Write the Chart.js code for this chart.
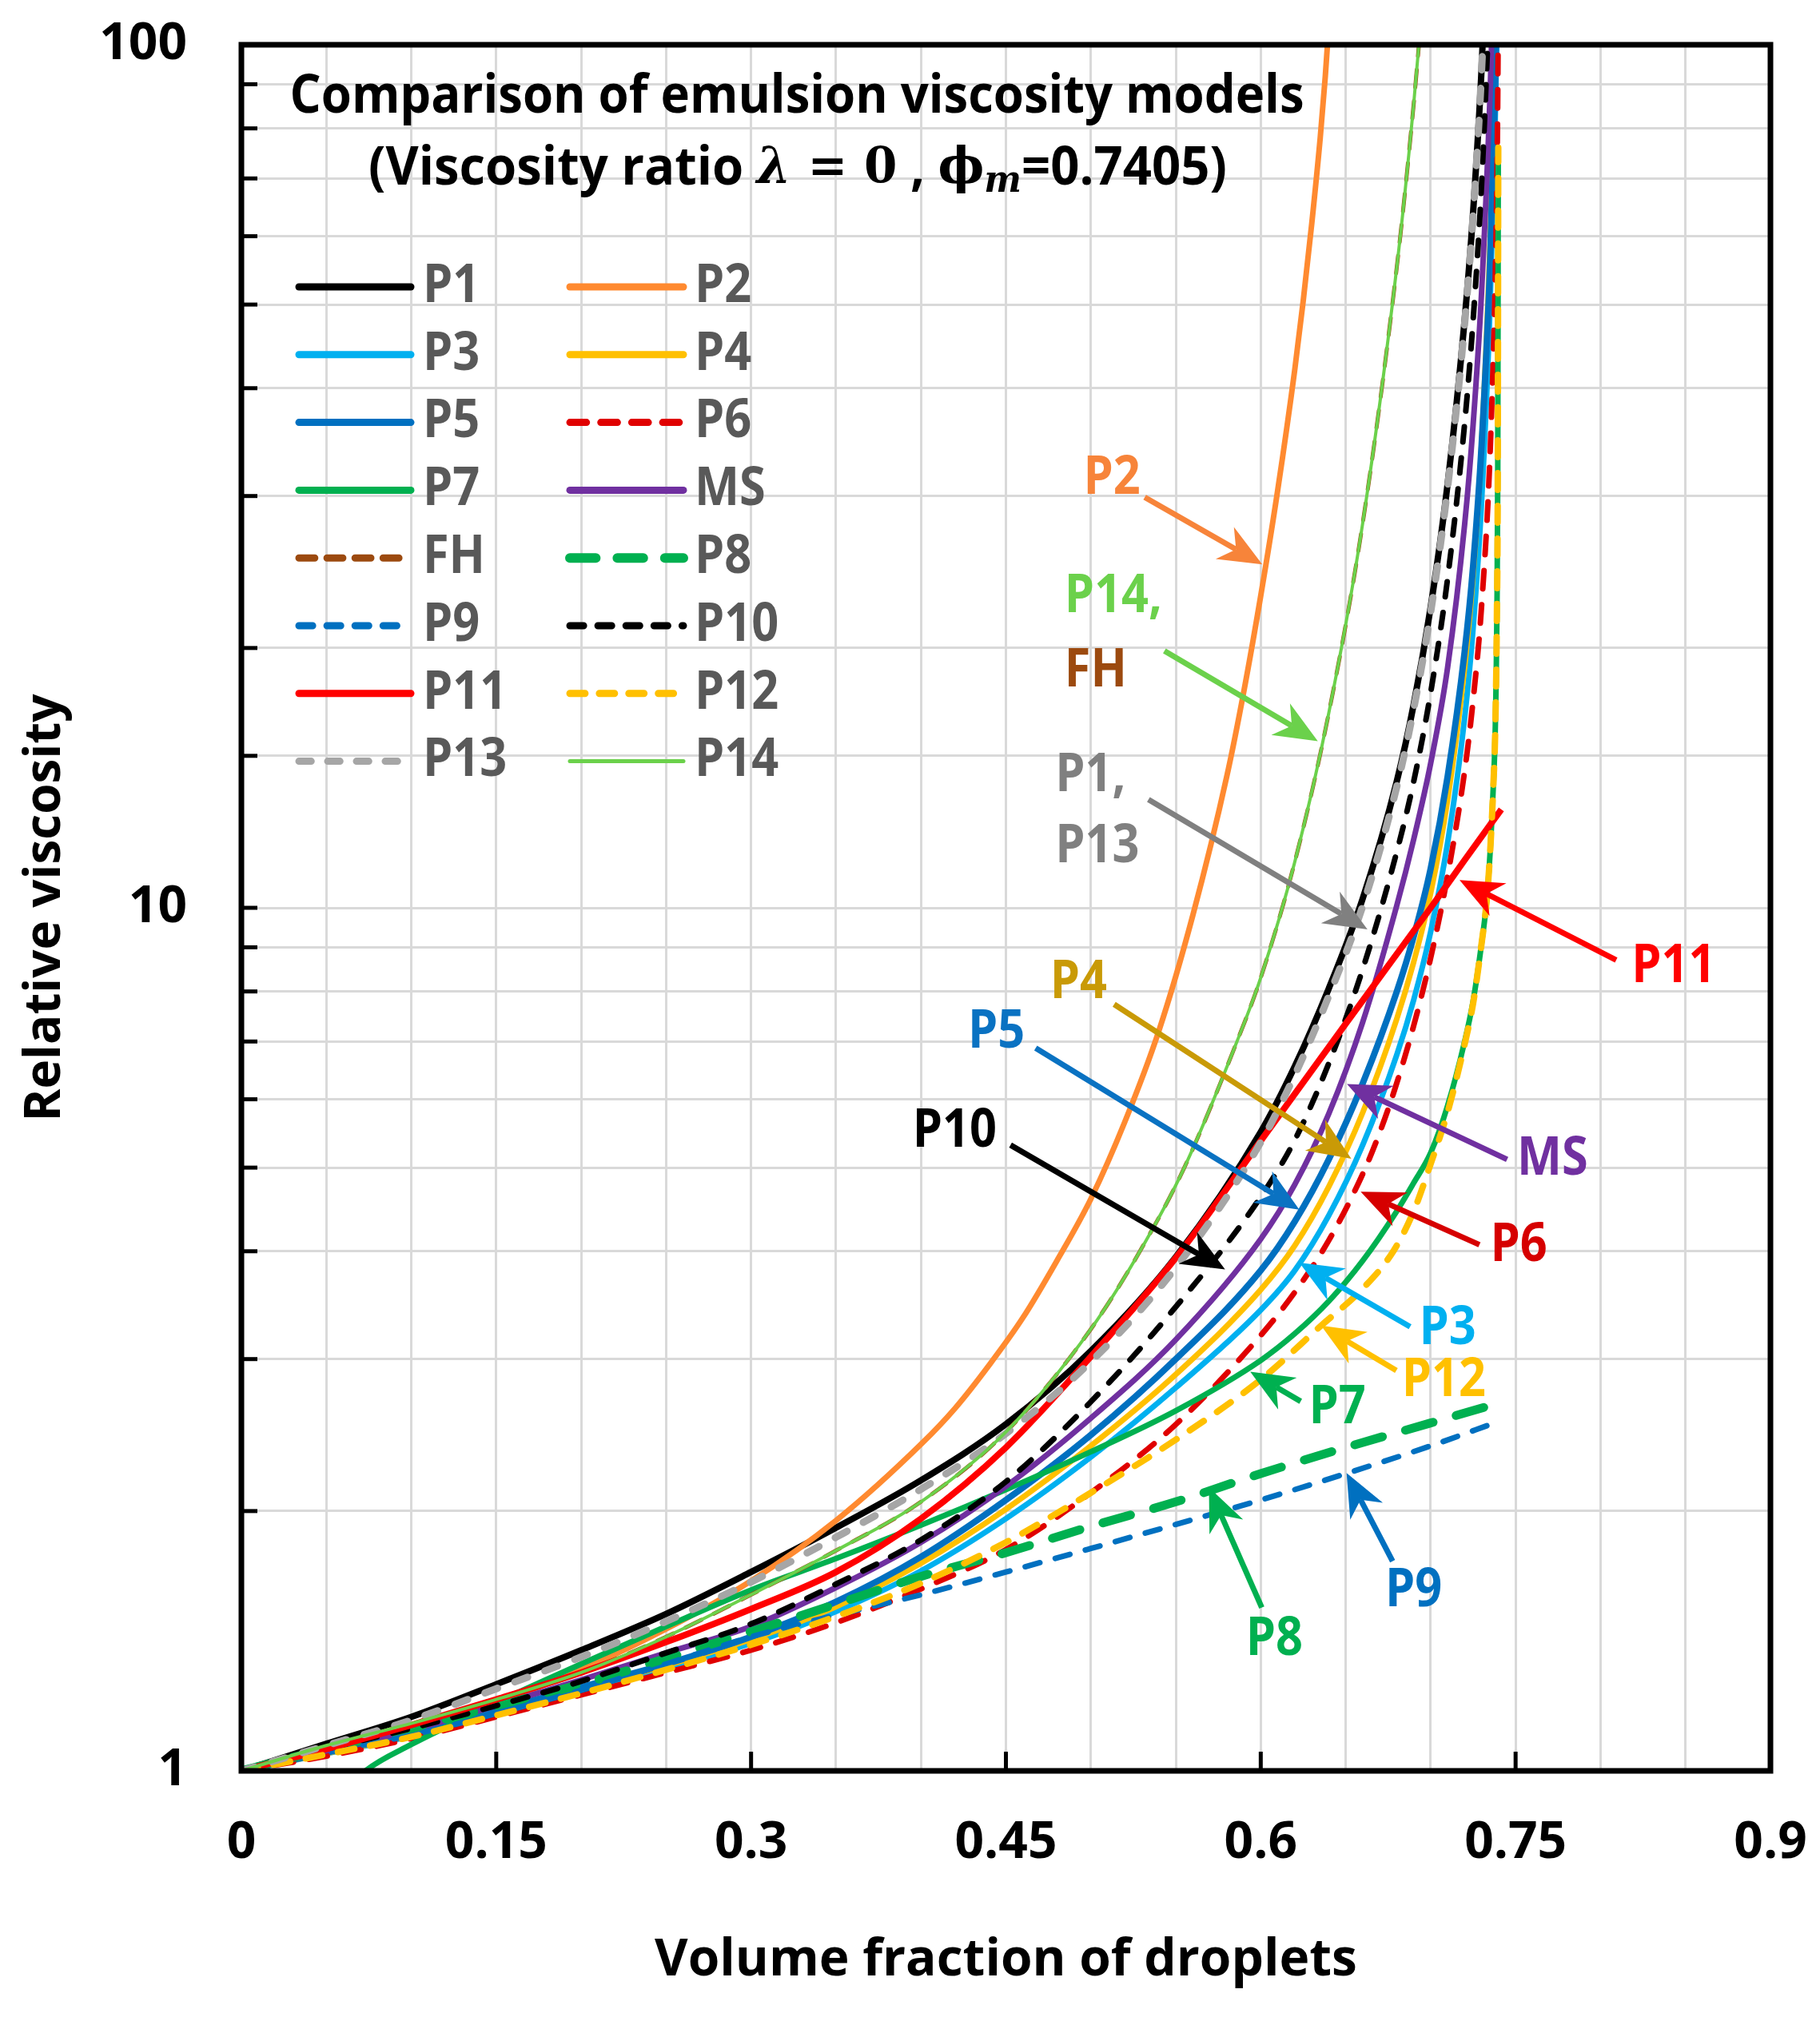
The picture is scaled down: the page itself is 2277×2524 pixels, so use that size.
<!DOCTYPE html>
<html>
<head>
<meta charset="utf-8">
<script src="https://cdn.jsdelivr.net/npm/chart.js@4.4.1/dist/chart.umd.min.js"></script>
<style>
  html, body { margin: 0; padding: 0; background: #fff; }
  #wrap { width: 2277px; height: 2524px; }
</style>
</head>
<body>
<div id="wrap"><canvas id="myChart" width="2277" height="2524"></canvas></div>
<script>
// values: [volume fraction, relative viscosity]
const P1 = [[0,1],[0.05,1.075],[0.1,1.155],[0.15,1.26],[0.2,1.38],[0.25,1.52],[0.3,1.70],[0.35,1.913],[0.4,2.171],[0.45,2.522],[0.5,3.066],[0.55,3.94],[0.6,5.50],[0.62,6.55],[0.64,8.06],[0.66,10.25],[0.68,14.0],[0.69,17.2],[0.7,22.3],[0.71,31],[0.72,48],[0.725,64],[0.73,94],[0.735,165]];
const P2 = [[0,1],[0.05,1.055],[0.1,1.12],[0.15,1.2],[0.2,1.31],[0.25,1.46],[0.3,1.66],[0.35,1.95],[0.4,2.39],[0.42,2.63],[0.44,2.95],[0.46,3.35],[0.48,3.9],[0.5,4.6],[0.52,5.65],[0.54,7.2],[0.56,9.8],[0.58,14.2],[0.59,17.8],[0.6,23],[0.61,30.5],[0.62,42],[0.625,50.5],[0.63,62],[0.635,78],[0.638,92],[0.642,120]];
const P3 = [[0,1],[0.05,1.047],[0.1,1.097],[0.15,1.165],[0.2,1.235],[0.25,1.315],[0.3,1.405],[0.35,1.53],[0.4,1.705],[0.45,1.96],[0.5,2.31],[0.55,2.78],[0.6,3.42],[0.62,3.80],[0.64,4.40],[0.66,5.31],[0.68,6.75],[0.69,7.82],[0.7,9.38],[0.71,11.9],[0.72,16.6],[0.725,21.1],[0.73,29.6],[0.735,50],[0.738,82],[0.7395,117]];
const P4 = [[0,1],[0.05,1.048],[0.1,1.1],[0.15,1.17],[0.2,1.245],[0.25,1.325],[0.3,1.42],[0.35,1.55],[0.4,1.74],[0.45,2.01],[0.5,2.38],[0.55,2.88],[0.6,3.61],[0.62,4.06],[0.64,4.75],[0.66,5.79],[0.68,7.43],[0.69,8.65],[0.7,10.4],[0.71,13.35],[0.72,19.0],[0.725,24.3],[0.73,34.5],[0.735,59.3],[0.738,98.8],[0.7395,144]];
const P5 = [[0,1],[0.05,1.05],[0.1,1.105],[0.15,1.175],[0.2,1.25],[0.25,1.33],[0.3,1.43],[0.35,1.57],[0.4,1.77],[0.45,2.06],[0.5,2.45],[0.55,3.0],[0.6,3.80],[0.62,4.33],[0.64,5.11],[0.66,6.26],[0.68,7.99],[0.69,9.26],[0.7,11.1],[0.71,14.2],[0.72,19.8],[0.725,24.9],[0.73,34.4],[0.735,56],[0.738,90],[0.739,113]];
const P6 = [[0,1],[0.05,1.04],[0.1,1.09],[0.15,1.155],[0.2,1.225],[0.25,1.3],[0.3,1.38],[0.35,1.485],[0.4,1.625],[0.45,1.805],[0.5,2.1],[0.55,2.52],[0.6,3.196],[0.62,3.585],[0.64,4.116],[0.66,4.915],[0.67,5.49],[0.68,6.26],[0.69,7.30],[0.7,8.75],[0.71,10.9],[0.72,14.4],[0.725,17.4],[0.73,22.4],[0.735,33.7],[0.738,53.6],[0.739,70],[0.7395,87.5],[0.74,126]];
const P7 = [[0.05,0.9],[0.073,1.0],[0.1,1.073],[0.125,1.135],[0.15,1.2],[0.2,1.33],[0.25,1.47],[0.3,1.62],[0.35,1.762],[0.4,1.926],[0.45,2.118],[0.5,2.343],[0.55,2.614],[0.6,2.99],[0.62,3.21],[0.64,3.50],[0.66,3.9],[0.68,4.45],[0.69,4.8],[0.7,5.2],[0.71,5.9],[0.72,7.0],[0.725,7.8],[0.73,9.1],[0.733,10.2],[0.735,11.6],[0.737,14],[0.738,16],[0.739,22],[0.7395,32],[0.7398,76]];
const MS = [[0,1],[0.05,1.055],[0.1,1.115],[0.15,1.19],[0.2,1.275],[0.25,1.37],[0.3,1.47],[0.35,1.631],[0.4,1.84],[0.45,2.137],[0.5,2.563],[0.55,3.16],[0.6,4.133],[0.62,4.778],[0.64,5.77],[0.66,7.37],[0.68,10.05],[0.69,12.0],[0.7,14.7],[0.71,19.0],[0.72,27.8],[0.725,36.3],[0.73,51.8],[0.735,88],[0.737,120]];
const FH = [[0,1],[0.05,1.07],[0.1,1.135],[0.15,1.21],[0.2,1.3],[0.25,1.43],[0.3,1.6],[0.35,1.8],[0.4,2.05],[0.45,2.47],[0.5,3.25],[0.532,4.1],[0.555,5.0],[0.586,7.0],[0.6,8.3],[0.62,11.3],[0.64,16.8],[0.66,27.9],[0.68,55.1],[0.69,85.3],[0.695,110.6]];
const P8 = [[0,1],[0.05,1.06],[0.1,1.12],[0.15,1.19],[0.2,1.26],[0.25,1.35],[0.3,1.45],[0.35,1.56],[0.4,1.68],[0.45,1.79],[0.5,1.92],[0.55,2.05],[0.6,2.21],[0.65,2.37],[0.7,2.53],[0.735,2.65]];
const P9 = [[0,1],[0.05,1.05],[0.1,1.1],[0.15,1.165],[0.2,1.24],[0.25,1.33],[0.3,1.43],[0.35,1.515],[0.4,1.6],[0.45,1.7],[0.5,1.81],[0.55,1.93],[0.6,2.06],[0.65,2.21],[0.7,2.38],[0.74,2.54]];
const P10 = [[0,1],[0.05,1.06],[0.1,1.12],[0.15,1.19],[0.2,1.27],[0.25,1.37],[0.3,1.48],[0.35,1.646],[0.4,1.852],[0.45,2.163],[0.5,2.677],[0.55,3.449],[0.6,4.625],[0.62,5.38],[0.64,6.6],[0.66,8.49],[0.68,11.6],[0.69,14.0],[0.7,17.75],[0.71,24.1],[0.72,36.4],[0.725,48],[0.73,69],[0.735,117]];
const P11 = [[0,1],[0.05,1.06],[0.1,1.13],[0.15,1.21],[0.2,1.3],[0.25,1.41],[0.3,1.54],[0.35,1.70],[0.4,1.96],[0.45,2.37],[0.5,3.02],[0.55,3.93],[0.6,5.37],[0.65,7.34],[0.7,10.0],[0.72,11.36],[0.7416,13.0]];
const P12 = [[0,1],[0.05,1.045],[0.1,1.095],[0.15,1.16],[0.2,1.23],[0.25,1.31],[0.3,1.4],[0.35,1.51],[0.4,1.65],[0.45,1.84],[0.5,2.1],[0.55,2.42],[0.6,2.84],[0.6355,3.28],[0.66,3.62],[0.678,4.0],[0.69,4.45],[0.7,5.05],[0.71,5.8],[0.72,6.95],[0.725,7.75],[0.73,9.1],[0.733,10.2],[0.735,11.6],[0.737,14],[0.738,16],[0.739,22],[0.7395,32],[0.7398,76]];
const P13 = [[0,1],[0.05,1.07],[0.1,1.145],[0.15,1.245],[0.2,1.355],[0.25,1.49],[0.3,1.655],[0.35,1.865],[0.4,2.12],[0.45,2.46],[0.5,2.98],[0.55,3.83],[0.6,5.35],[0.62,6.4],[0.64,7.9],[0.66,10.05],[0.68,13.8],[0.69,17.0],[0.7,22.0],[0.71,30.7],[0.72,47.5],[0.725,63.5],[0.73,93.5],[0.735,165]];
const P14 = [[0,1],[0.05,1.07],[0.1,1.135],[0.15,1.21],[0.2,1.3],[0.25,1.43],[0.3,1.6],[0.35,1.8],[0.4,2.05],[0.45,2.47],[0.5,3.25],[0.532,4.1],[0.555,5.0],[0.586,7.0],[0.6,8.3],[0.62,11.3],[0.64,16.8],[0.66,27.9],[0.68,55.1],[0.69,85.3],[0.695,110.6]];

const xTicks = [0, 0.15, 0.3, 0.45, 0.6, 0.75, 0.9];
const yTicks = [1, 10, 100];

// series in Excel order (later ones drawn on top), legend fills row by row
const series = [
  { label: 'P1',  pts: P1,  color: '#000000', width: 8 },
  { label: 'P2',  pts: P2,  color: '#ff8a30', width: 7 },
  { label: 'P3',  pts: P3,  color: '#00b0f0', width: 7 },
  { label: 'P4',  pts: P4,  color: '#ffc000', width: 7 },
  { label: 'P5',  pts: P5,  color: '#0070c0', width: 8 },
  { label: 'P6',  pts: P6,  color: '#e00000', width: 7, dash: [23, 20] },
  { label: 'P7',  pts: P7,  color: '#00b050', width: 7 },
  { label: 'MS',  pts: MS,  color: '#7030a0', width: 7 },
  { label: 'FH',  pts: FH,  color: '#9c4a0f', width: 5, dash: [22, 17] },
  { label: 'P8',  pts: P8,  color: '#00b050', width: 11, dash: [36, 30] },
  { label: 'P9',  pts: P9,  color: '#0070c0', width: 7, dash: [19, 20] },
  { label: 'P10', pts: P10, color: '#000000', width: 7, dash: [19, 20] },
  { label: 'P11', pts: P11, color: '#ff0000', width: 8 },
  { label: 'P12', pts: P12, color: '#ffc000', width: 8, dash: [21, 20] },
  { label: 'P13', pts: P13, color: '#a6a6a6', width: 9, dash: [17, 23] },
  { label: 'P14', pts: P14, color: '#6bd14b', width: 4 }
];

// callouts: text position, arrow start and arrow tip in data units
const notes = [
  { text: 'P2',   color: '#f7843a', at: [0.5124, 31.4], from: [0.5317, 29.9], to: [0.6009, 25.0] },
  { text: 'P14,', color: '#6bd14b', at: [0.4845, 22.9], left: true, from: [0.5433, 19.85], to: [0.6336, 15.6] },
  { text: 'FH',   color: '#9c4a0f', at: [0.4845, 18.8], left: true },
  { text: 'P1,',  color: '#808080', at: [0.479, 14.2], left: true, from: [0.5339, 13.35], to: [0.6628, 9.44] },
  { text: 'P13',  color: '#808080', at: [0.479, 11.76], left: true },
  { text: 'P4',   color: '#c99a06', at: [0.4927, 8.18], from: [0.5137, 7.73], to: [0.6533, 5.12] },
  { text: 'P5',   color: '#0a72c2', at: [0.4444, 7.16], from: [0.4675, 6.88], to: [0.6227, 4.47] },
  { text: 'P10',  color: '#000000', at: [0.4198, 5.5], from: [0.4527, 5.31], to: [0.579, 3.81] },
  { text: 'P11',  color: '#ff0000', at: [0.843, 8.54], from: [0.8092, 8.70], to: [0.717, 10.77] },
  { text: 'MS',   color: '#7030a0', at: [0.7717, 5.11], from: [0.745, 5.11], to: [0.6507, 6.25] },
  { text: 'P6',   color: '#d60000', at: [0.7519, 4.06], from: [0.7287, 4.07], to: [0.6588, 4.69] },
  { text: 'P3',   color: '#00b0f0', at: [0.71, 3.25], from: [0.6879, 3.27], to: [0.6227, 3.88] },
  { text: 'P12',  color: '#ffc000', at: [0.7077, 2.83], from: [0.6798, 2.91], to: [0.6355, 3.28] },
  { text: 'P7',   color: '#00b050', at: [0.6451, 2.63], from: [0.6235, 2.68], to: [0.5938, 2.90] },
  { text: 'P8',   color: '#00b050', at: [0.608, 1.417], from: [0.6006, 1.546], to: [0.5695, 2.13] },
  { text: 'P9',   color: '#0070c0', at: [0.690, 1.615], from: [0.6776, 1.75], to: [0.6505, 2.214] }
];

const FONT = '"Open Sans", "DejaVu Sans", sans-serif';
const SERIF = '"DejaVu Serif", serif';

function scaledText(ctx, text, x, y, font, color, sx, left) {
  ctx.save();
  ctx.font = font;
  ctx.fillStyle = color;
  ctx.textBaseline = 'middle';
  ctx.textAlign = 'left';
  const w = ctx.measureText(text).width * sx;
  ctx.translate(left ? x : x - w / 2, y);
  ctx.scale(sx, 1);
  ctx.fillText(text, 0, 0);
  ctx.restore();
}

function arrow(ctx, x0, y0, x1, y1, color) {
  const L = 54, W = 23;
  const dx = x1 - x0, dy = y1 - y0, len = Math.hypot(dx, dy);
  const ux = dx / len, uy = dy / len, nx = -uy, ny = ux;
  const bx = x1 - ux * L * 0.7, by = y1 - uy * L * 0.7;
  ctx.save();
  ctx.strokeStyle = color;
  ctx.fillStyle = color;
  ctx.lineWidth = 7;
  ctx.beginPath();
  ctx.moveTo(x0, y0);
  ctx.lineTo(bx, by);
  ctx.stroke();
  ctx.beginPath();
  ctx.moveTo(x1, y1);
  ctx.lineTo(x1 - ux * L + nx * W, y1 - uy * L + ny * W);
  ctx.lineTo(bx, by);
  ctx.lineTo(x1 - ux * L - nx * W, y1 - uy * L - ny * W);
  ctx.closePath();
  ctx.fill();
  ctx.restore();
}

const decor = {
  id: 'decor',
  afterDatasetsDraw(chart) {
    const ctx = chart.ctx;
    const a = chart.chartArea;
    const xs = chart.scales.x, ys = chart.scales.y;

    // inner tick marks
    ctx.save();
    ctx.strokeStyle = '#000';
    ctx.lineWidth = 5;
    ys.ticks.forEach(t => {
      if (t.value <= 1 || t.value >= 100) return;
      const y = ys.getPixelForValue(t.value);
      ctx.beginPath(); ctx.moveTo(a.left, y); ctx.lineTo(a.left + 20, y); ctx.stroke();
    });
    xTicks.forEach(v => {
      if (v <= 0 || v >= 0.9) return;
      const x = xs.getPixelForValue(v);
      ctx.beginPath(); ctx.moveTo(x, a.bottom); ctx.lineTo(x, a.bottom - 24); ctx.stroke();
    });
    // frame
    ctx.lineWidth = 7;
    ctx.strokeRect(a.left, a.top, a.right - a.left, a.bottom - a.top);
    ctx.restore();

    // legend, two columns
    chart.data.datasets.forEach((ds, i) => {
      const col = i % 2, row = Math.floor(i / 2);
      const y = 359 + row * 84.8;
      const x1 = col ? 713 : 374, x2 = col ? 855 : 514;
      ctx.save();
      ctx.strokeStyle = ds.borderColor;
      ctx.lineWidth = ds.label === 'P14' ? 5 : (ds.label === 'P8' ? 12 : 9);
      ctx.lineCap = 'round';
      ctx.setLineDash(ds.borderDash && ds.borderDash.length ? [ds.borderDash[0] * 0.9, ds.borderDash[1] * 0.9] : []);
      ctx.beginPath(); ctx.moveTo(x1, y); ctx.lineTo(x2, y); ctx.stroke();
      ctx.restore();
      scaledText(ctx, ds.label, col ? 869 : 529, y, 'bold 66px ' + FONT, '#595959', 0.9, true);
    });

    // title, line 1
    ctx.save();
    ctx.font = 'bold 66px ' + FONT;
    const t1 = 'Comparison of emulsion viscosity models';
    const sx1 = 1269 / ctx.measureText(t1).width;
    ctx.restore();
    scaledText(ctx, t1, 997, 122, 'bold 66px ' + FONT, '#000', sx1, false);

    // title, line 2 with math parts
    const parts = [
      { t: '(Viscosity ratio ', f: 'bold 66px ' + FONT, dy: 0 },
      { t: 'λ', f: 'italic bold 64px ' + SERIF, dy: 0 },
      { t: ' = 0', f: 'bold 62px ' + SERIF, dy: 0 },
      { t: ' , ', f: 'bold 66px ' + FONT, dy: 0 },
      { t: 'ϕ', f: 'bold 64px ' + SERIF, dy: 0 },
      { t: 'm', f: 'italic bold 46px ' + SERIF, dy: 16 },
      { t: '=0.7405)', f: 'bold 66px ' + FONT, dy: 0 }
    ];
    ctx.save();
    let total = 0;
    parts.forEach(p => { ctx.font = p.f; p.w = ctx.measureText(p.t).width; total += p.w; });
    const sx2 = 1074 / total;
    ctx.translate(998 - total * sx2 / 2, 212);
    ctx.scale(sx2, 1);
    ctx.fillStyle = '#000';
    ctx.textBaseline = 'middle';
    let cx = 0;
    parts.forEach(p => { ctx.font = p.f; ctx.fillText(p.t, cx, p.dy); cx += p.w; });
    ctx.restore();

    // callouts
    notes.forEach(n => {
      if (n.from) {
        arrow(ctx, xs.getPixelForValue(n.from[0]), ys.getPixelForValue(n.from[1]),
                   xs.getPixelForValue(n.to[0]), ys.getPixelForValue(n.to[1]), n.color);
      }
      scaledText(ctx, n.text, xs.getPixelForValue(n.at[0]), ys.getPixelForValue(n.at[1]),
                 'bold 66px ' + FONT, n.color, 0.9, !!n.left);
    });
  }
};

const datasets = series.map((s, i) => ({
  label: s.label,
  data: s.pts.map(p => ({ x: p[0], y: p[1] })),
  borderColor: s.color,
  backgroundColor: s.color,
  borderWidth: s.width,
  borderDash: s.dash || [],
  borderCapStyle: s.dash ? 'round' : 'butt',
  pointRadius: 0,
  cubicInterpolationMode: 'monotone',
  fill: false,
  clip: 0,
  order: series.length - i
}));

const config = {
  type: 'line',
  data: { datasets: datasets },
  options: {
    responsive: false,
    animation: false,
    devicePixelRatio: 1,
    layout: { padding: { top: 56, right: 62, left: 0, bottom: 0 } },
    plugins: { legend: { display: false }, tooltip: { enabled: false } },
    scales: {
      x: {
        type: 'linear', min: 0, max: 0.9,
        afterFit: s => { s.height = 308; s.paddingLeft = 0; s.paddingRight = 0; },
        ticks: {
          stepSize: 0.05, autoSkip: false, maxRotation: 0, padding: 52,
          color: '#000', font: { family: FONT, size: 64, weight: 'bold' },
          callback: (v, i) => (i % 3 === 0 ? String(Number(v.toFixed(2))) : '')
        },
        grid: { color: '#d9d9d9', lineWidth: 3, drawTicks: false },
        border: { display: false },
        title: { display: true, text: 'Volume fraction of droplets', color: '#000',
                 font: { family: FONT, size: 64, weight: 'bold' }, padding: { top: 0, bottom: 32 } }
      },
      y: {
        type: 'logarithmic', min: 1, max: 100,
        afterFit: s => { s.width = 302; s.paddingTop = 0; s.paddingBottom = 0; },
        ticks: {
          autoSkip: false, padding: 68, color: '#000',
          font: { family: FONT, size: 64, weight: 'bold' },
          callback: v => (yTicks.some(t => Math.abs(t - v) < 1e-6) ? String(Math.round(v)) : '')
        },
        grid: { color: '#d9d9d9', lineWidth: 3, drawTicks: false },
        border: { display: false },
        title: { display: true, text: 'Relative viscosity', color: '#000',
                 font: { family: FONT, size: 62, weight: 'bold' }, padding: { top: 20, bottom: 0 } }
      }
    }
  },
  plugins: [decor]
};

const myChart = new Chart(document.getElementById('myChart'), config);
</script>
</body>
</html>
